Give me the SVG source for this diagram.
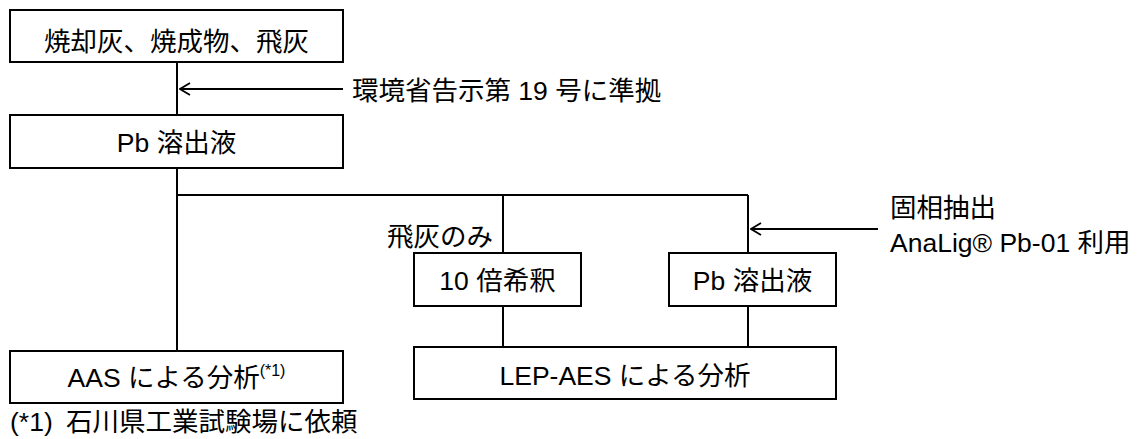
<svg xmlns="http://www.w3.org/2000/svg" width="1137" height="439" viewBox="0 0 1137 439">
<style>
.box{fill:#fff;stroke:#000;stroke-width:2}
.ln{fill:none;stroke:#000;stroke-width:2}
text{font-family:"Liberation Sans","Noto Sans CJK JP",sans-serif;font-size:26.5px;fill:#000}
.c{text-anchor:middle}
</style>
<defs>
<marker id="ah" viewBox="0 0 12 14" refX="11" refY="7" markerWidth="12" markerHeight="14" markerUnits="userSpaceOnUse" orient="auto">
<path d="M1,1 L11,7 L1,13" fill="none" stroke="#000" stroke-width="1.8"/>
</marker>
</defs>
<g id="connectors">
<line class="ln" x1="177" y1="62" x2="177" y2="115"/>
<line class="ln" x1="343" y1="89" x2="180" y2="89" marker-end="url(#ah)"/>
<line class="ln" x1="177" y1="168" x2="177" y2="351"/>
<line class="ln" x1="177" y1="195" x2="748" y2="195"/>
<line class="ln" x1="503" y1="195" x2="503" y2="253"/>
<line class="ln" x1="748" y1="195" x2="748" y2="253"/>
<line class="ln" x1="878" y1="229" x2="751" y2="229" marker-end="url(#ah)"/>
<line class="ln" x1="503" y1="306" x2="503" y2="347"/>
<line class="ln" x1="748" y1="306" x2="748" y2="347"/>
</g>
<g id="n-source">
<rect class="box" x="10" y="10" width="333" height="52" stroke-width="2.5"/>
<text class="c" x="176.5" y="51" font-size="28.5">焼却灰、焼成物、飛灰</text>
</g>
<g id="lbl-kokuji">
<text x="352" y="100">環境省告示第 19 号に準拠</text>
</g>
<g id="n-pb1">
<rect class="box" x="10" y="115" width="333" height="53"/>
<text class="c" x="176.5" y="152">Pb 溶出液</text>
</g>
<g id="lbl-hibai">
<text x="387" y="245.5">飛灰のみ</text>
</g>
<g id="n-dilute">
<rect class="box" x="414" y="253" width="167" height="53"/>
<text class="c" x="497.5" y="290">10 倍希釈</text>
</g>
<g id="n-pb2">
<rect class="box" x="669" y="253" width="167" height="53"/>
<text class="c" x="752.5" y="290">Pb 溶出液</text>
</g>
<g id="lbl-spe">
<text x="890" y="217">固相抽出</text>
<text x="890" y="252">AnaLig® Pb-01 利用</text>
</g>
<g id="n-lep">
<rect class="box" x="414" y="347" width="422" height="52"/>
<text class="c" x="625" y="385">LEP-AES による分析</text>
</g>
<g id="n-aas">
<rect class="box" x="10" y="351" width="333" height="52"/>
<text class="c" x="176.5" y="387">AAS による分析<tspan font-size="16" dy="-11">(*1)</tspan></text>
</g>
<g id="footnote">
<text x="10" y="431">(*1)<tspan x="66">石川県工業試験場に依頼</tspan></text>
</g>
</svg>
